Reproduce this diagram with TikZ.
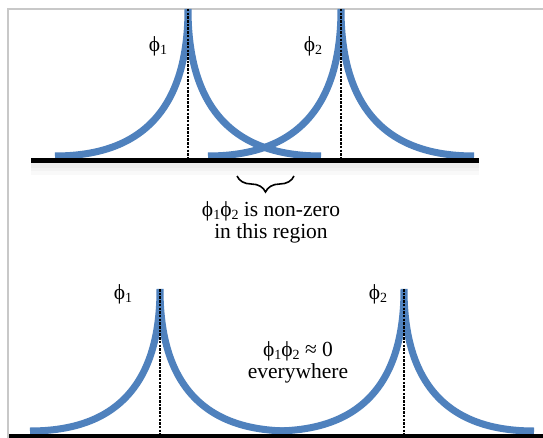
\documentclass[tikz,border=0pt]{standalone}
\usepackage{fontspec}
\setmainfont{Liberation Serif}
\usetikzlibrary{decorations.pathreplacing}
\definecolor{wblue}{RGB}{79,129,189}
\definecolor{framegray}{RGB}{200,200,200}
\newcommand{\mysub}[1]{\raisebox{-0.15em}{\fontsize{14}{14}\selectfont #1}}
\newcommand{\phx}{ϕ}
% peak: x0, ytop, yend, half-width
\newcommand{\mypeak}[4]{%
  \draw[wave] (#1-#4,#3) .. controls (#1-#4/3,#3) and (#1,{#3-(#3-#2)/3}) .. (#1,#2)
     .. controls (#1,{#3-(#3-#2)/3}) and (#1+#4/3,#3) .. (#1+#4,#3);}
\begin{document}
\begin{tikzpicture}[x=1pt,y=-1pt,
  wave/.style={wblue,line width=7pt},
  guide/.style={black,line width=1.1pt,dash pattern=on 2.5pt off 1.2pt},
  axisline/.style={black,line width=5pt},
  shadowline/.style={black,opacity=0.025},
  lbl/.style={font=\fontsize{21.5}{22}\selectfont,inner sep=0pt}]
\useasboundingbox (0,0) rectangle (543,438);
\fill[white] (0,0) rectangle (543,438);
% frame
\draw[framegray,line width=1.5pt] (8,438) -- (8,9) -- (543,9);
% top diagram
\coordinate (a1) at (31,161);
\coordinate (a2) at (479,161);
\foreach \w/\d in {16/6,11/5,6/4}{\draw[shadowline,line width=\w pt] ([yshift=-\d pt]a1) -- ([yshift=-\d pt]a2);}
\mypeak{188}{9}{156}{133}
\mypeak{341}{9}{156}{133}
\coordinate (g1t) at (188,9);
\coordinate (g1b) at (188,161);
\coordinate (g2t) at (341,9);
\coordinate (g2b) at (341,161);
\draw[guide] (g1t) -- (g1b);
\draw[guide] (g2t) -- (g2b);
\draw[axisline] (a1) -- (a2);
\coordinate (b1) at (237,176);
\coordinate (b2) at (294,176);
\draw[decorate,decoration={brace,amplitude=16pt,mirror},line width=1.6pt] (b1) -- (b2);
\node[lbl] (u1) at (158,46) {\phx\mysub{1}};
\node[lbl] (u2) at (313,46) {\phx\mysub{2}};
\node[lbl,align=center] (nz) at (271,222) {\phx\mysub{1}\phx\mysub{2} is non-zero\\in this region};
% bottom diagram
\coordinate (c1) at (9,436);
\coordinate (c2) at (543,436);
\mypeak{160}{289}{431}{130}
\mypeak{404}{289}{431}{130}
\coordinate (h1t) at (160,289);
\coordinate (h1b) at (160,436);
\coordinate (h2t) at (404,289);
\coordinate (h2b) at (404,436);
\draw[guide] (h1t) -- (h1b);
\draw[guide] (h2t) -- (h2b);
\draw[axisline] (c1) -- (c2);
\node[lbl] (v1) at (123,294) {\phx\mysub{1}};
\node[lbl] (v2) at (378,294) {\phx\mysub{2}};
\node[lbl,align=center] (ev) at (298,362) {\phx\mysub{1}\phx\mysub{2} ≈ 0\\everywhere};
\end{tikzpicture}
\end{document}
